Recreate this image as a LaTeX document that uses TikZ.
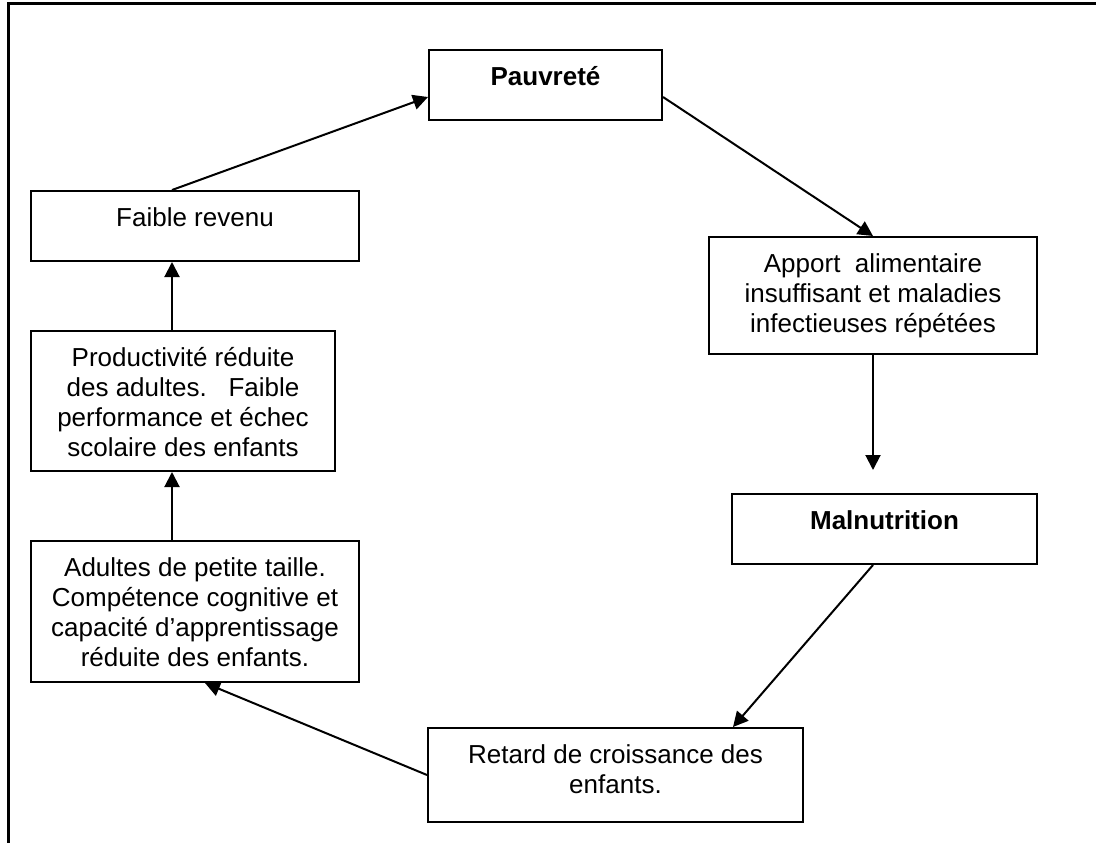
\documentclass[tikz,border=0pt]{standalone}
\usepackage{fontspec}
\setmainfont{Liberation Sans}
\usetikzlibrary{arrows.meta,calc}
\tikzset{
  box/.style={draw=black, line width=2pt, inner sep=0pt, rectangle},
  lbl/.style={inner sep=0pt, anchor=base, font=\fontsize{26}{30}\selectfont},
  arr/.style={line width=2pt, -{Triangle[length=15pt,width=15pt]}},
  ln/.style={line width=2pt}
}
\newcommand{\lines}[1]{\parbox[t]{12cm}{\centering #1}}
\begin{document}
\begin{tikzpicture}[x=1pt,y=-1pt]
\useasboundingbox (0,0) rectangle (1096,843);
% outer frame
\draw[line width=3pt] (8,843) -- (8,4) -- (1096,4);
% boxes
\node[box, minimum width=233pt, minimum height=70pt] (pauv) at (545.5,85) {};
\node[box, minimum width=328pt, minimum height=117pt] (apport) at (873,295.5) {};
\node[box, minimum width=305pt, minimum height=70pt] (maln) at (884.5,529) {};
\node[box, minimum width=375pt, minimum height=94pt] (retard) at (615.5,775) {};
\node[box, minimum width=328pt, minimum height=141pt] (adultes) at (195,611.5) {};
\node[box, minimum width=304pt, minimum height=140pt] (prod) at (183,401) {};
\node[box, minimum width=328pt, minimum height=70pt] (faible) at (195,226) {};
% labels
\node[lbl] (tpauv) at (545.5,85) {\lines{\textbf{Pauvreté}}};
\node[lbl] (tapport) at (873,272) {\lines{Apport\ \ alimentaire\\insuffisant et maladies\\infectieuses répétées}};
\node[lbl] (tmaln) at (884.5,529) {\lines{\textbf{Malnutrition}}};
\node[lbl] (tretard) at (615.5,763) {\lines{Retard de croissance des\\enfants.}};
\node[lbl] (tadultes) at (195,576) {\lines{Adultes de petite taille.\\Compétence cognitive et\\capacité d’apprentissage\\réduite des enfants.}};
\node[lbl] (tprod) at (183,366) {\lines{Productivité réduite\\des adultes.\ \ \ Faible\\performance et échec\\scolaire des enfants}};
\node[lbl] (tfaible) at (195,226) {\lines{Faible revenu}};
% connectors
\coordinate (mtop) at (873,470);
\draw[arr] ([xshift=-23pt]faible.north) -- ([yshift=-12pt]pauv.west);
\draw[arr] ([yshift=-12pt]pauv.east) -- (apport.north);
\draw[arr] (apport.south) -- (mtop);
\draw[arr] ([xshift=-11.5pt]maln.south) -- ([xshift=117.5pt]retard.north);
\draw[arr] (retard.west) -- ([xshift=10pt]adultes.south);
\draw[arr] ([xshift=-23pt]adultes.north) -- ([xshift=-11pt]prod.south);
\draw[arr] ([xshift=-11pt]prod.north) -- ([xshift=-23pt]faible.south);
\end{tikzpicture}
\end{document}
